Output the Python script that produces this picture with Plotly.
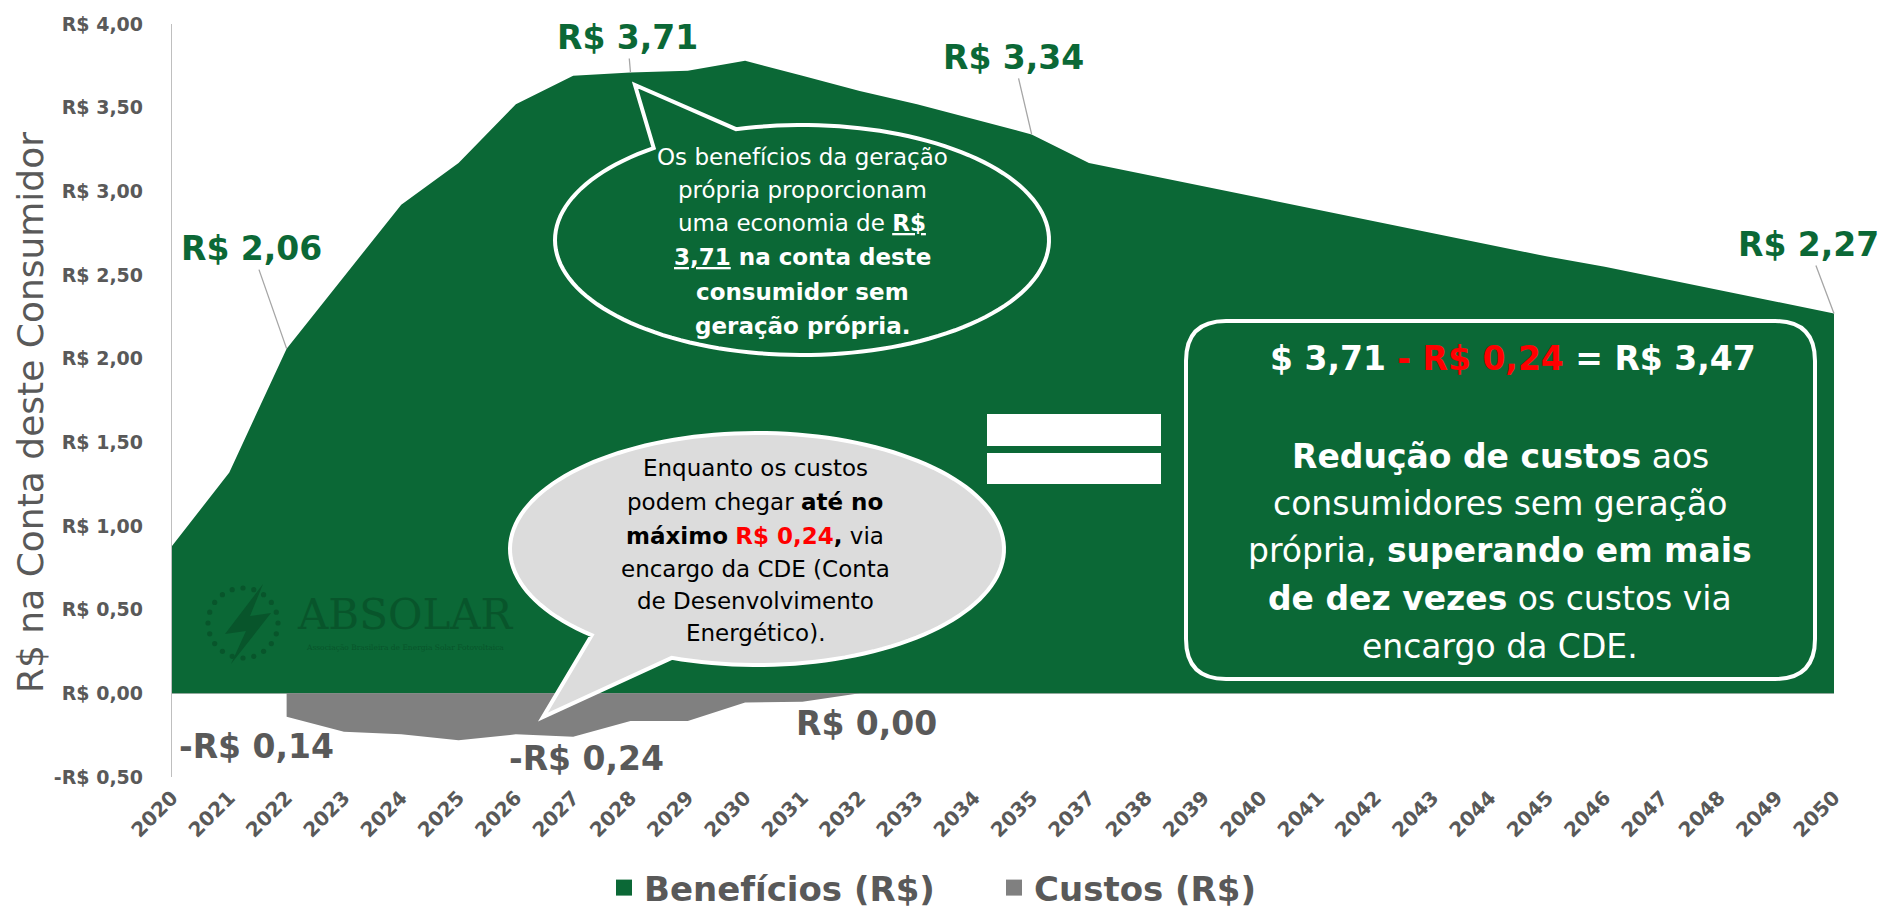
import math
import plotly.graph_objects as go

# ---------------- data ----------------
categories = ["2020", "2021", "2022", "2023", "2024", "2025", "2026", "2027", "2028",
              "2029", "2030", "2031", "2032", "2033", "2034", "2035", "2037", "2038",
              "2039", "2040", "2041", "2042", "2043", "2044", "2045", "2046", "2047",
              "2048", "2049", "2050"]
beneficios = [0.88, 1.32, 2.06, 2.49, 2.92, 3.17, 3.52, 3.69, 3.71, 3.72, 3.78, 3.69,
              3.60, 3.52, 3.43, 3.34, 3.17, 3.10, 3.03, 2.96, 2.89, 2.82, 2.75, 2.68,
              2.61, 2.55, 2.48, 2.41, 2.34, 2.27]
custos = [None, None, -0.14, -0.23, -0.245, -0.28, -0.245, -0.26, -0.165, -0.165,
          -0.055, -0.05, 0.0, 0.0, 0.0, 0.0, 0.0, 0.0, 0.0, 0.0, 0.0, 0.0, 0.0, 0.0,
          0.0, 0.0, 0.0, 0.0, 0.0, 0.0]
y_tickvals = [-0.5, 0.0, 0.5, 1.0, 1.5, 2.0, 2.5, 3.0, 3.5, 4.0]
y_ticktext = ["-R$ 0,50", "R$ 0,00", "R$ 0,50", "R$ 1,00", "R$ 1,50", "R$ 2,00",
              "R$ 2,50", "R$ 3,00", "R$ 3,50", "R$ 4,00"]
series_names = ["Benefícios (R$)", "Custos (R$)"]
green_labels = [("2022", 2.06, "R$ 2,06"), ("2028", 3.71, "R$ 3,71"),
                ("2035", 3.34, "R$ 3,34"), ("2050", 2.27, "R$ 2,27")]
gray_labels = [("2022", -0.14, "-R$ 0,14"), ("2027", -0.26, "-R$ 0,24"),
               ("2032", 0.0, "R$ 0,00")]

# ---------------- style ----------------
W, H = 1883, 909
ML, MR, MT, MB = 172, 49, 24, 132
PW, PH = W - ML - MR, H - MT - MB
GREEN = "#0B6836"
GRAY = "#808080"
TXT = "#595959"
WIDE = "DejaVu Sans, Verdana, sans-serif"
SERIF = "DejaVu Serif, Liberation Serif, serif"
WM = "#08552B"


def P(x, y):
    return (x - ML) / PW, (MT + PH - y) / PH


def path_from(points):
    s = ""
    for i, (x, y) in enumerate(points):
        px, py = P(x, y)
        s += ("M" if i == 0 else "L") + f"{px:.5f},{py:.5f} "
    return s + "Z"


def ell_pt(cx, cy, rx, ry, a):
    r = math.radians(a)
    return cx + rx * math.cos(r), cy + ry * math.sin(r)


def callout_path(cx, cy, rx, ry, ang_a, ang_b, tip, n=140):
    pts = [ell_pt(cx, cy, rx, ry, ang_a), tip, ell_pt(cx, cy, rx, ry, ang_b)]
    end = ang_a + 360
    for i in range(1, n + 1):
        a = ang_b + (end - ang_b) * i / n
        pts.append(ell_pt(cx, cy, rx, ry, a))
    return path_from(pts)


def round_rect_path(x0, y0, x1, y1, r):
    def q(x, y):
        a, b = P(x, y)
        return f"{a:.5f},{b:.5f}"
    return (f"M{q(x0 + r, y0)} L{q(x1 - r, y0)} Q{q(x1, y0)} {q(x1, y0 + r)} "
            f"L{q(x1, y1 - r)} Q{q(x1, y1)} {q(x1 - r, y1)} L{q(x0 + r, y1)} "
            f"Q{q(x0, y1)} {q(x0, y1 - r)} L{q(x0, y0 + r)} Q{q(x0, y0)} {q(x0 + r, y0)} Z")


def text_at(x, y, text, size, color, family=WIDE, **kw):
    px, py = P(x, y)
    d = dict(x=px, y=py, xref="paper", yref="paper", text=text, showarrow=False,
             xanchor="center", yanchor="middle",
             font=dict(family=family, size=size, color=color))
    d.update(kw)
    return d


fig = go.Figure()
fig.add_trace(go.Scatter(x=categories, y=beneficios, mode="lines", fill="tozeroy",
                         fillcolor=GREEN, line=dict(width=0, color=GREEN),
                         showlegend=False, hoverinfo="skip"))
fig.add_trace(go.Scatter(x=categories, y=custos, mode="lines", fill="tozeroy",
                         fillcolor=GRAY, line=dict(width=0, color=GRAY),
                         connectgaps=False, showlegend=False, hoverinfo="skip"))
# legend entries (square symbols)
for name, col in zip(series_names, [GREEN, GRAY]):
    fig.add_trace(go.Scatter(x=[None], y=[None], mode="markers", name=name,
                             marker=dict(symbol="square", size=17, color=col)))

shapes = []
annotations = []

# watermark logo
for k in range(20):
    a = 2 * math.pi * k / 20
    cx, cy = 243 + 35 * math.cos(a), 623 + 35 * math.sin(a)
    x0, y0 = P(cx - 2.6, cy - 2.6)
    x1, y1 = P(cx + 2.6, cy + 2.6)
    shapes.append(dict(type="circle", xref="paper", yref="paper", x0=x0, x1=x1,
                       y0=y0, y1=y1, fillcolor=WM, line=dict(width=0), layer="above"))
shapes.append(dict(type="path", xref="paper", yref="paper", layer="above",
                   path=path_from([(263, 584), (225, 634), (246, 631), (231, 664),
                                   (271, 613), (250, 616)]),
                   fillcolor=WM, line=dict(width=0)))
annotations.append(text_at(405, 614, "ABSOLAR", 42, WM, family=SERIF))
annotations.append(text_at(405, 647, "Associação Brasileira de Energia Solar Fotovoltaica",
                           7.5, WM, family=SERIF))

# green callout
shapes.append(dict(type="path", xref="paper", yref="paper", layer="above",
                   path=callout_path(802, 240, 247, 115, -126.9, -105.5, (635, 85)),
                   fillcolor=GREEN, line=dict(color="white", width=4)))
green_lines = ["Os benefícios da geração", "própria proporcionam",
               "uma economia de <b><u>R$</u></b>", "<b><u>3,71</u> na conta deste</b>",
               "<b>consumidor sem</b>", "<b>geração própria.</b>"]
for t, yy in zip(green_lines, [157, 190, 223, 257, 292, 326]):
    annotations.append(text_at(802, yy, t, 23, "white"))

# gray callout
shapes.append(dict(type="path", xref="paper", yref="paper", layer="above",
                   path=callout_path(757, 549, 247, 116, 110.2, 132.0, (543, 717)),
                   fillcolor="#DCDCDC", line=dict(color="white", width=4)))
gray_lines = ["Enquanto os custos", "podem chegar <b>até no</b>",
              "<b>máximo</b> <span style='color:#FF0000'><b>R$ 0,24</b></span><b>,</b> via",
              "encargo da CDE (Conta", "de Desenvolvimento", "Energético)."]
for t, yy in zip(gray_lines, [468, 502, 536, 569, 601, 633]):
    annotations.append(text_at(755, yy, t, 23, "#000000"))

# equal sign
for (yy0, yy1) in [(414, 446), (453, 484)]:
    x0, y0 = P(987, yy1)
    x1, y1 = P(1161, yy0)
    shapes.append(dict(type="rect", xref="paper", yref="paper", x0=x0, x1=x1, y0=y0,
                       y1=y1, fillcolor="white", line=dict(width=0), layer="above"))

# rounded box
shapes.append(dict(type="path", xref="paper", yref="paper", layer="above",
                   path=round_rect_path(1186, 321, 1815, 679, 40),
                   fillcolor=GREEN, line=dict(color="white", width=4)))
box_lines = [("<b>$ 3,71 <span style='color:#FF0000'>- R$ 0,24</span> = R$ 3,47</b>", 1513, 358, 33),
             ("<b>Redução de custos</b> aos", 1500, 457, 33),
             ("consumidores sem geração", 1500, 503, 33),
             ("própria, <b>superando em mais</b>", 1500, 550, 33),
             ("<b>de dez vezes</b> os custos via", 1500, 598, 33),
             ("encargo da CDE.", 1500, 646, 33)]
for t, xx, yy, fs in box_lines:
    annotations.append(text_at(xx, yy, t, fs, "white"))

# data labels with leader lines
offsets = {"R$ 2,06": (-35, -100), "R$ 3,71": (-3, -35), "R$ 3,34": (-18, -77),
           "R$ 2,27": (-26, -69)}
for cat, val, txt in green_labels:
    ox, oy = offsets[txt]
    annotations.append(dict(x=categories.index(cat), y=val, xref="x", yref="y",
                            text=f"<b>{txt}</b>", showarrow=True, arrowhead=0,
                            arrowwidth=1.3, arrowcolor="#A6A6A6", standoff=0,
                            ax=ox, ay=oy, xanchor="center", yanchor="middle",
                            font=dict(family=WIDE, size=33, color=GREEN)))
shifts = {"-R$ 0,14": (-30, -30), "-R$ 0,24": (13, -22), "R$ 0,00": (7, -30)}
for cat, val, txt in gray_labels:
    sx, sy = shifts[txt]
    annotations.append(dict(x=categories.index(cat), y=val, xref="x", yref="y",
                            text=f"<b>{txt}</b>", showarrow=False, xshift=sx, yshift=sy,
                            xanchor="center", yanchor="middle",
                            font=dict(family=WIDE, size=33, color=TXT)))

# y axis title
annotations.append(text_at(30, 413, "R$ na Conta deste Consumidor", 36, TXT,
                           textangle=-90))

lx, ly = P(604, 888)
fig.update_layout(
    width=W, height=H,
    margin=dict(l=ML, r=MR, t=MT, b=MB, autoexpand=False),
    paper_bgcolor="white", plot_bgcolor="white",
    showlegend=True,
    legend=dict(orientation="h", x=lx, y=ly, xanchor="left", yanchor="middle",
                font=dict(family=WIDE, size=34, color=TXT, weight="bold"),
                itemsizing="trace", entrywidth=345, entrywidthmode="pixels",
                bgcolor="rgba(0,0,0,0)"),
    xaxis=dict(type="category", range=[0, len(categories) - 1], showgrid=False,
               showline=False, zeroline=False, ticks="", tickangle=-45,
               ticklabelstandoff=4,
               tickfont=dict(family=WIDE, size=20, color=TXT, weight="bold")),
    yaxis=dict(range=[-0.5, 4.0], tickvals=y_tickvals, ticktext=y_ticktext,
               showgrid=False, zeroline=True, zerolinecolor="#BFBFBF", zerolinewidth=1.3,
               showline=True, linecolor="#BFBFBF", linewidth=1.3, ticks="",
               ticklabelstandoff=24,
               tickfont=dict(family=WIDE, size=19, color=TXT, weight="bold")),
    shapes=shapes, annotations=annotations, hovermode=False,
)

fig.write_html("out.html", post_script="document.body.style.margin='0';",
               config={"displayModeBar": False})
